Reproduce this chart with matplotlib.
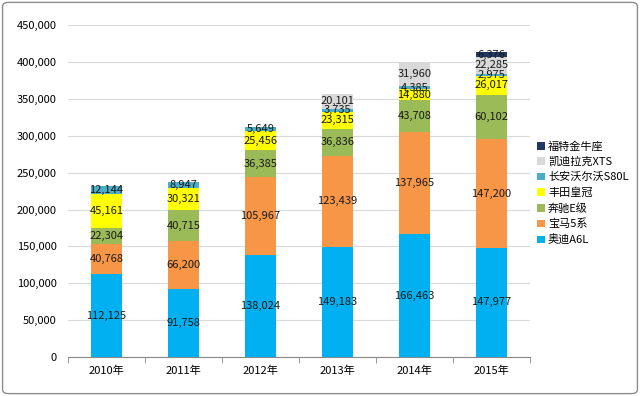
import numpy as np
import matplotlib
matplotlib.use("Agg")
import matplotlib.pyplot as plt
from matplotlib.ticker import FuncFormatter
from matplotlib.patches import FancyBboxPatch

plt.rcParams["font.family"] = ["Noto Sans CJK SC", "DejaVu Sans"]

years = ["2010年", "2011年", "2012年", "2013年", "2014年", "2015年"]

# stacked bottom -> top
series_names = ["奥迪A6L", "宝马5系", "奔驰E级", "丰田皇冠", "长安沃尔沃S80L", "凯迪拉克XTS", "福特金牛座"]
audi = [112125, 91758, 138024, 149183, 166463, 147977]
bmw = [40768, 66200, 105967, 123439, 137965, 147200]
benz = [22304, 40715, 36385, 36836, 43708, 60102]
crown = [45161, 30321, 25456, 23315, 14880, 26017]
volvo = [12144, 8947, 5649, 3735, 4385, 2975]
xts = [0, 0, 0, 20101, 31960, 22285]
ford = [0, 0, 0, 0, 0, 6376]

colors = ["#00B0F0", "#F79646", "#9BBB59", "#FFFF00", "#4BACC6", "#D9D9D9", "#1F3864"]
all_series = [audi, bmw, benz, crown, volvo, xts, ford]

fig = plt.figure(figsize=(6.4, 3.96), dpi=100)
ax = fig.add_axes([0.106, 0.0985, 0.722, 0.838])

x = np.arange(len(years))
bottom = np.zeros(len(years))
handles = []
for name, vals, color in zip(series_names, all_series, colors):
    vals = np.array(vals, dtype=float)
    bars = ax.bar(x, vals, 0.4, bottom=bottom, color=color, label=name, zorder=3)
    handles.append(bars)
    for xi, v, b in zip(x, vals, bottom):
        if v > 0:
            ax.text(xi, b + v / 2, f"{int(v):,}", ha="center", va="center",
                    fontsize=8, color="#1a1a1a", zorder=4)
    bottom += vals

ax.set_xlim(-0.5, len(years) - 0.5)
ax.set_ylim(0, 450000)
ax.set_yticks(np.arange(0, 450001, 50000))
ax.yaxis.set_major_formatter(FuncFormatter(lambda v, p: f"{int(v):,}"))
ax.set_xticks(x)
ax.set_xticklabels(years)
ax.set_xticks(np.arange(-0.5, len(years), 1), minor=True)
ax.tick_params(axis="x", which="major", length=0, labelsize=8, pad=6)
ax.tick_params(axis="x", which="minor", length=4, color="#888888")
ax.tick_params(axis="y", length=0, labelsize=8, pad=8)
ax.grid(True, axis="y", color="#d9d9d9", linewidth=0.8, zorder=0)
for s in ["top", "right", "left"]:
    ax.spines[s].set_visible(False)
ax.spines["bottom"].set_color("#888888")

leg = fig.legend(handles[::-1], series_names[::-1], loc="upper left",
                 bbox_to_anchor=(0.832, 0.655), frameon=False, fontsize=8,
                 handlelength=0.7, handleheight=0.7, handletextpad=0.3,
                 labelspacing=0.45, borderaxespad=0)

border = FancyBboxPatch((0.004, 0.006), 0.992, 0.988, boxstyle="round,pad=0,rounding_size=0.01",
                        transform=fig.transFigure, fill=False, edgecolor="#8c8c8c", linewidth=1)
fig.patches.append(border)

fig.savefig("out.png", dpi=100)
